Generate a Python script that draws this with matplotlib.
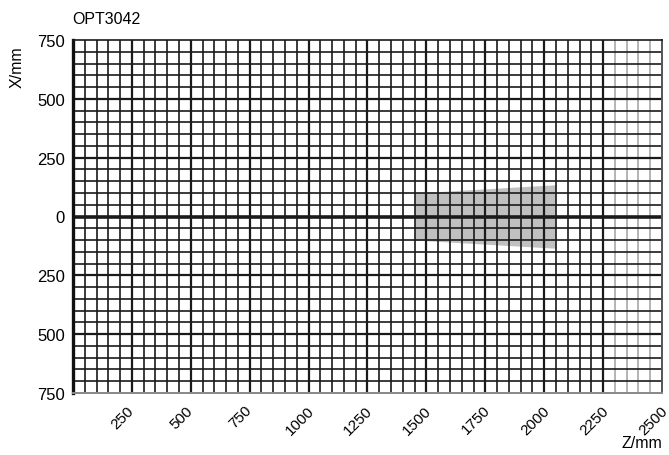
import numpy as np
import matplotlib
matplotlib.use("Agg")
import matplotlib.pyplot as plt
import matplotlib.transforms as mtrans

plt.rcParams['font.family'] = ['Liberation Sans', 'DejaVu Sans']

# detection zone of the sensor
zone_z = [1450, 2050]
zone_upper = [100, 135]
zone_lower = [-100, -135]

z_ticks = [250, 500, 750, 1000, 1250, 1500, 1750, 2000, 2250, 2500]
x_ticks = [750, 500, 250, 0, -250, -500, -750]
x_labels = ['750', '500', '250', '0', '250', '500', '750']

fig = plt.figure(figsize=(6.69, 4.56), dpi=100)
ax = fig.add_axes([73/669, 62/456, 589/669, 353/456])
ax.set_xlim(0, 2500)
ax.set_ylim(-750, 750)

ax.fill_between(zone_z, zone_lower, zone_upper, color='#c0c0c0', lw=0, zorder=1)

# grid, 50 mm spacing
for z in range(50, 2500, 50):
    col = '#1a1a1a' if z <= 2250 else '#a8a8a8'
    lw = 1.6 if z % 250 == 0 else 1.2
    ax.axvline(z, color=col, lw=lw, zorder=2)
for x in range(-700, 750, 50):
    lw = 1.6 if x % 250 == 0 else 1.2
    if x == 0:
        lw = 2.6
    ax.axhline(x, color='#1a1a1a', lw=lw, zorder=2)

ax.spines['top'].set_color('#1a1a1a')
ax.spines['top'].set_linewidth(1.2)
ax.spines['left'].set_linewidth(2.4)
ax.spines['left'].set_color('#111111')
ax.spines['right'].set_color('#555555')
ax.spines['right'].set_linewidth(1.4)
ax.spines['bottom'].set_color('#888888')
ax.spines['bottom'].set_linewidth(1.4)

ax.set_xticks(z_ticks)
ax.set_xticklabels([str(t) for t in z_ticks], rotation=45, ha='center', fontsize=11)
ax.set_yticks(x_ticks)
ax.set_yticklabels(x_labels, fontsize=12)
ax.tick_params(length=0, pad=6)
ax.tick_params(axis='x', pad=7)
shift = mtrans.ScaledTranslation(-9/100, 0, fig.dpi_scale_trans)
for lab in ax.get_xticklabels():
    lab.set_transform(lab.get_transform() + shift)

fig.text(72/669, 1 - 19/456, 'OPT3042', fontsize=11.5, va='center', ha='left')
fig.text(17/669, 1 - 67/456, 'X/mm', fontsize=11.5, va='center', ha='center', rotation=90)
fig.text(642/669, 1 - 444/456, 'Z/mm', fontsize=11.5, va='center', ha='center')

fig.savefig('out.png', dpi=100)
